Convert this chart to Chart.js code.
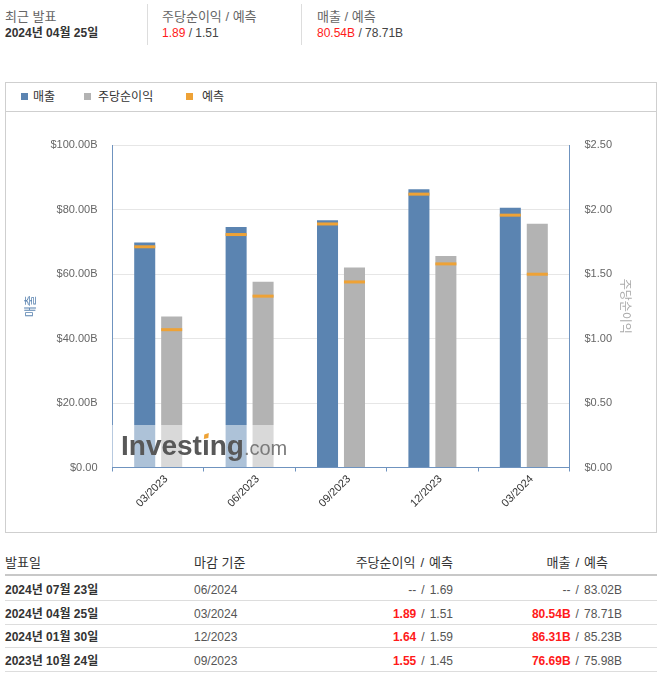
<!DOCTYPE html>
<html>
<head>
<meta charset="utf-8">
<script src="https://cdn.jsdelivr.net/npm/chart.js@4.4.1/dist/chart.umd.min.js"></script>
<style>
  body { margin: 0; background: #fff; width: 664px; height: 677px; position: relative; overflow: hidden;
         font-family: "Liberation Sans", Arial, "Noto Sans CJK KR", sans-serif; color: #333; }
  .t { position: absolute; white-space: nowrap; height: 16px; line-height: 16px; }
  .r { text-align: right; }
  .lbl { font-size: 13px; color: #666; }
  .val { font-size: 12px; color: #444; }
  .b { font-weight: bold; }
  .red { color: #ff1a1a; font-weight: bold; }
  .sl { margin: 0 5px; }
  .vsep { position: absolute; top: 4px; width: 1px; height: 41px; background: #ddd; }
  .hl { position: absolute; left: 5px; width: 652px; height: 1px; background: #ddd; }
  #box { position: absolute; left: 5px; top: 82px; width: 650px; height: 449px; border: 1px solid #cfcfcf; }
  #legendSep { position: absolute; left: 0; top: 28px; width: 650px; height: 1px; background: #cfcfcf; }
  .sq { position: absolute; top: 10px; width: 7px; height: 7px; }
  .lg { position: absolute; top: 6px; font-size: 12px; line-height: 16px; color: #333; white-space: nowrap; }
  #chartWrap { position: absolute; left: 0; top: 29px; width: 650px; height: 420px; }
</style>
</head>
<body>

<!-- latest release summary -->
<div class="t lbl" style="left:5px;top:9px;">최근 발표</div>
<div class="t val b" style="left:5px;top:25px;color:#333;">2024년 04월 25일</div>
<div class="vsep" style="left:147px;"></div>
<div class="t lbl" style="left:162px;top:9px;">주당순이익 / 예측</div>
<div class="t val" style="left:162px;top:25px;"><span class="red" style="font-weight:normal">1.89</span> / 1.51</div>
<div class="vsep" style="left:301px;"></div>
<div class="t lbl" style="left:317px;top:9px;">매출 / 예측</div>
<div class="t val" style="left:317px;top:25px;"><span class="red" style="font-weight:normal">80.54B</span> / 78.71B</div>

<div id="box">
  <div class="sq" style="left:15px;background:#5b84b1;"></div>
  <div class="lg" style="left:27px;">매출</div>
  <div class="sq" style="left:78px;background:#b3b3b3;"></div>
  <div class="lg" style="left:92px;">주당순이익</div>
  <div class="sq" style="left:180px;background:#eea236;"></div>
  <div class="lg" style="left:196px;">예측</div>
  <div id="legendSep"></div>
  <div id="chartWrap"><canvas id="earningsChart" width="650" height="420"></canvas></div>
</div>

<!-- earnings history table -->
<div class="t" style="left:5px;top:555px;font-size:13px;">발표일</div>
<div class="t" style="left:194px;top:555px;font-size:13px;">마감 기준</div>
<div class="t r" style="left:253px;width:200px;top:555px;font-size:13px;">주당순이익<span class="sl">/</span>예측</div>
<div class="t r" style="left:408px;width:200px;top:555px;font-size:13px;">매출<span class="sl">/</span>예측</div>
<div style="position:absolute;left:5px;top:574px;width:652px;height:2px;background:#c8c8c8;"></div>
<div id="rows"></div>

<script>
const categories = ['03/2023', '06/2023', '09/2023', '12/2023', '03/2024'];
const revenue = [69.79, 74.60, 76.69, 86.31, 80.54];
const revenueForecast = [68.9, 72.7, 75.98, 85.23, 78.71];
const eps = [1.17, 1.44, 1.55, 1.64, 1.89];
const epsForecast = [1.08, 1.34, 1.45, 1.59, 1.51];
const revenueTicks = ['$0.00', '$20.00B', '$40.00B', '$60.00B', '$80.00B', '$100.00B'];
const epsTicks = ['$0.00', '$0.50', '$1.00', '$1.50', '$2.00', '$2.50'];

// table rows
const releaseDates = ['2024년 07월 23일', '2024년 04월 25일', '2024년 01월 30일', '2023년 10월 24일'];
const periods = ['06/2024', '03/2024', '12/2023', '09/2023'];
const epsActual = ['--', '1.89', '1.64', '1.55'];
const epsEstimate = ['1.69', '1.51', '1.59', '1.45'];
const revActual = ['--', '80.54B', '86.31B', '76.69B'];
const revEstimate = ['83.02B', '78.71B', '85.23B', '75.98B'];

const BLUE = '#5b84b1';
const AXIS = '#6f93bf';
const GREY = '#b3b3b3';
const ORANGE = '#eea236';
const FONT = '"Liberation Sans", Arial, "Noto Sans CJK KR", sans-serif';

const rowsEl = document.getElementById('rows');
const rowCenters = [590, 613.5, 637, 661];
releaseDates.forEach((d, i) => {
    const top = rowCenters[i] - 8;
    const actualCls = epsActual[i] === '--' ? '' : 'red';
    const revCls = revActual[i] === '--' ? '' : 'red';
    rowsEl.innerHTML +=
        `<div class="t b" style="left:5px;top:${top}px;font-size:12px;">${d}</div>` +
        `<div class="t" style="left:194px;top:${top}px;font-size:12px;color:#555;">${periods[i]}</div>` +
        `<div class="t r" style="left:253px;width:200px;top:${top}px;font-size:12px;color:#555;"><span class="${actualCls}">${epsActual[i]}</span><span class="sl">/</span>${epsEstimate[i]}</div>` +
        `<div class="t r" style="left:422px;width:200px;top:${top}px;font-size:12px;color:#555;"><span class="${revCls}">${revActual[i]}</span><span class="sl">/</span>${revEstimate[i]}</div>` +
        `<div class="hl" style="top:${rowCenters[i] + 10}px;"></div>`;
});

Chart.defaults.font.family = FONT;

const forecastLines = {
    id: 'forecastLines',
    afterDatasetsDraw(chart) {
        const { ctx, chartArea } = chart;
        ctx.save();
        [[0, revenueForecast, 'y'], [1, epsForecast, 'y1']].forEach(([idx, vals, axis]) => {
            const meta = chart.getDatasetMeta(idx);
            const scale = chart.scales[axis];
            meta.data.forEach((bar, j) => {
                const y = scale.getPixelForValue(vals[j]);
                ctx.fillStyle = ORANGE;
                ctx.fillRect(bar.x - bar.width / 2, y, bar.width, 3);
            });
        });

        // watermark
        const left = chartArea.left, bottom = chartArea.bottom;
        ctx.fillStyle = 'rgba(255,255,255,0.5)';
        ctx.fillRect(left - 3, bottom - 42.5, 181, 42);
        const x0 = left + 8.5, base = bottom - 12.5;
        ctx.textBaseline = 'alphabetic';
        ctx.textAlign = 'left';
        ctx.font = 'bold 28px ' + FONT;
        ctx.fillStyle = '#585858';
        const word = 'Invest\u0131ng';
        ctx.fillText(word, x0, base);
        const wInvest = ctx.measureText('Invest').width;
        const wi = ctx.measureText('\u0131').width;
        const wWord = ctx.measureText(word).width;
        ctx.fillStyle = ORANGE;
        const cx = x0 + wInvest + wi / 2;
        ctx.beginPath();
        ctx.moveTo(cx - 1.5, base - 20.5);
        ctx.lineTo(cx + 3, base - 22);
        ctx.lineTo(cx + 2.5, base - 17);
        ctx.lineTo(cx - 2, base - 16);
        ctx.closePath();
        ctx.fill();
        ctx.font = '20px ' + FONT;
        ctx.fillStyle = '#7a7a7a';
        ctx.fillText('.com', x0 + wWord, base);
        ctx.restore();
    }
};

new Chart(document.getElementById('earningsChart').getContext('2d'), {
    type: 'bar',
    data: {
        labels: categories,
        datasets: [
            { label: '매출', data: revenue, backgroundColor: BLUE, yAxisID: 'y',
              categoryPercentage: 0.59, barPercentage: 0.78 },
            { label: '주당순이익', data: eps, backgroundColor: GREY, yAxisID: 'y1',
              categoryPercentage: 0.59, barPercentage: 0.78 }
        ]
    },
    options: {
        responsive: false,
        animation: false,
        layout: { padding: { top: 33, left: 0, right: 0, bottom: 0 } },
        plugins: { legend: { display: false }, tooltip: { enabled: false } },
        scales: {
            x: {
                grid: { offset: true, drawOnChartArea: false, color: AXIS, tickLength: 4 },
                border: { color: AXIS },
                ticks: { minRotation: 45, maxRotation: 45, autoSkip: false, color: '#333',
                         font: { size: 11 }, labelOffset: 8, padding: 1 },
                afterFit(s) { s.height = 64.5; }
            },
            y: {
                position: 'left',
                min: 0, max: 100,
                ticks: { stepSize: 20, color: '#666', font: { size: 11 }, padding: 15,
                         callback: (v, i) => revenueTicks[i] },
                grid: { drawTicks: false, color: c => c.tick && c.tick.value === 0 ? 'rgba(0,0,0,0)' : '#e6e6e6' },
                border: { color: AXIS },
                title: { display: true, text: '매출', color: BLUE, font: { size: 12 }, padding: { top: 18, bottom: 0 } },
                afterFit(s) { s.width = 106.5; }
            },
            y1: {
                position: 'right',
                min: 0, max: 2.5,
                ticks: { stepSize: 0.5, color: '#666', font: { size: 11 }, padding: 15,
                         callback: (v, i) => epsTicks[i] },
                grid: { drawTicks: false, drawOnChartArea: false },
                border: { color: AXIS },
                title: { display: true, text: '주당순이익', color: '#aaa', font: { size: 12 }, padding: { top: 24, bottom: 0 } },
                afterFit(s) { s.width = 86.5; }
            }
        }
    },
    plugins: [forecastLines]
});
</script>
</body>
</html>
